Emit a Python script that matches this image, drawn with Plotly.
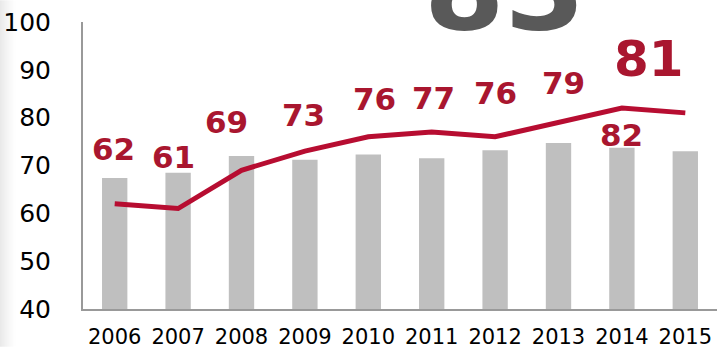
import plotly.graph_objects as go

# Yearly series
years = ["2006", "2007", "2008", "2009", "2010", "2011", "2012", "2013", "2014", "2015"]
bar_values = [67.4, 68.5, 72.0, 71.2, 72.3, 71.5, 73.2, 74.7, 73.7, 73.0]
line_values = [62, 61, 69, 73, 76, 77, 76, 79, 82, 81]
headline_value = 83

y_ticks = [40, 50, 60, 70, 80, 90, 100]

# Label placement relative to each line point (category offset, value offset)
label_dx = [-0.02, -0.08, -0.23, -0.03, 0.09, 0.03, 0.0, 0.08, 0.0, -0.57]
label_dy = [11.4, 10.8, 10.0, 7.5, 7.8, 7.2, 9.1, 8.3, -5.7, 11.2]

LINE_RED = "#b70d31"
LABEL_RED = "#a9162f"
BAR_GREY = "#bfbfbf"
AXIS_GREY = "#999999"
FONT = "DejaVu Sans"

W, H = 717, 349
M_L, M_R, M_T, M_B = 83, 0, 22, 38
PLOT_W = W - M_L - M_R

fig = go.Figure()

fig.add_trace(go.Bar(
    x=list(range(len(years))), y=bar_values,
    marker=dict(color=BAR_GREY, line=dict(width=0)),
    base=0, hoverinfo="skip",
))

fig.add_trace(go.Scatter(
    x=list(range(len(years))), y=line_values, mode="lines",
    line=dict(color=LINE_RED, width=5), hoverinfo="skip",
))

annotations = []
last = len(years) - 1
for i, v in enumerate(line_values):
    big = i == last
    annotations.append(dict(
        x=i + label_dx[i], y=v + label_dy[i], xref="x", yref="y",
        text=f"<b>{v}</b>", showarrow=False,
        font=dict(family=FONT, size=50 if big else 31, color=LABEL_RED),
        xanchor="center", yanchor="middle",
    ))

# Large headline figure, partly cut off at the top edge
annotations.append(dict(
    x=6.15, y=1.115, xref="x", yref="paper",
    text=f"<b>{headline_value}</b>", showarrow=False,
    font=dict(family=FONT, size=116, color="#595959"),
    xanchor="center", yanchor="middle",
))

# Soft shaded strip along the left edge of the page
shapes = []
n_strips = 16
for k in range(n_strips):
    px0, px1 = k, k + 1
    shade = 0.085 * (1 - k / n_strips) ** 1.3
    shapes.append(dict(
        type="rect", xref="paper", yref="paper", layer="below",
        x0=(px0 - M_L) / PLOT_W, x1=(px1 - M_L) / PLOT_W,
        y0=-M_B / (H - M_T - M_B), y1=1 + M_T / (H - M_T - M_B),
        fillcolor=f"rgba(0,0,0,{shade:.4f})", line=dict(width=0),
    ))

fig.update_layout(
    width=W, height=H,
    margin=dict(l=M_L, r=M_R, t=M_T, b=M_B),
    paper_bgcolor="white", plot_bgcolor="white",
    showlegend=False, bargap=0.6,
    annotations=annotations, shapes=shapes,
    font=dict(family=FONT, color="black"),
)

fig.update_xaxes(
    range=[-0.5, 9.5],
    tickmode="array", tickvals=list(range(len(years))), ticktext=years,
    tickfont=dict(size=21, family=FONT, color="black"),
    showgrid=False, zeroline=False,
    showline=True, linecolor=AXIS_GREY, linewidth=2,
    ticks="", ticklabelstandoff=8,
)

fig.update_yaxes(
    range=[40, 100],
    tickmode="array", tickvals=y_ticks,
    tickfont=dict(size=25, family=FONT, color="black"),
    showgrid=False, zeroline=False,
    showline=True, linecolor=AXIS_GREY, linewidth=2,
    ticks="", ticklabelstandoff=25,
)

fig.write_html("out.html")
